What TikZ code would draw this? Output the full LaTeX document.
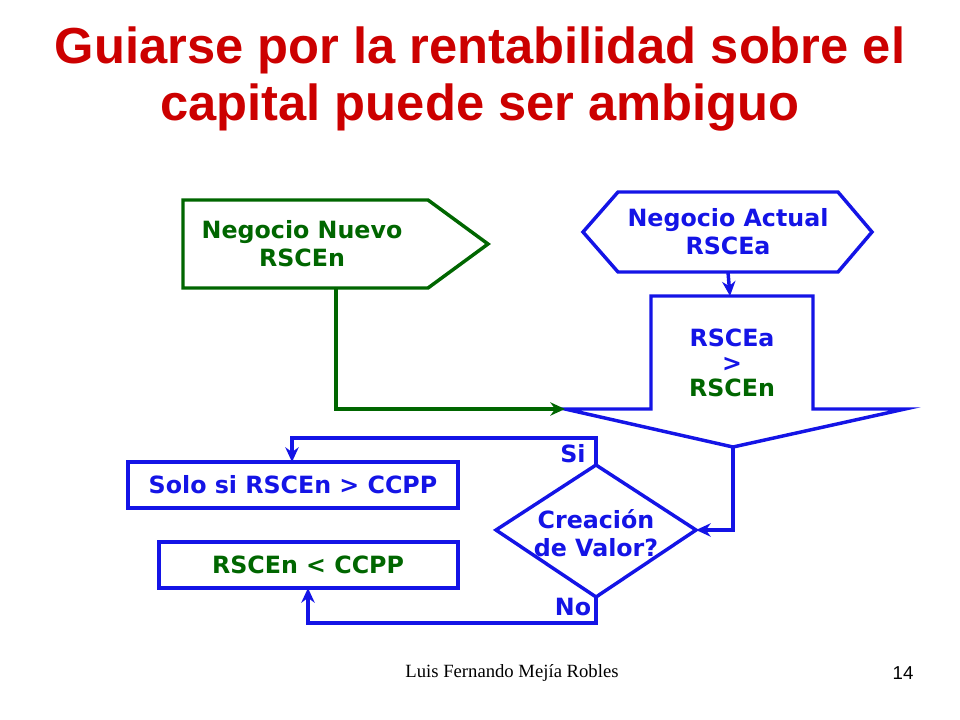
\documentclass[tikz,border=0pt]{standalone}
\usepackage{fontspec}
\setmainfont{DejaVu Sans}
\newfontfamily\titlefont{Liberation Sans}
\newfontfamily\footfont{Liberation Serif}
\usetikzlibrary{arrows.meta}
\definecolor{flowblue}{RGB}{20,20,230}
\definecolor{flowgreen}{RGB}{0,102,0}
\definecolor{titlered}{RGB}{204,0,0}
\tikzset{
  x=0.75pt, y=-0.75pt,
  >={Stealth[length=11pt,width=10pt]}, % arrow heads
  blueline/.style={draw=flowblue, line width=2.6pt, line join=miter},
  greenline/.style={draw=flowgreen, line width=2.6pt, line join=miter},
  txt/.style={font=\bfseries\fontsize{17.8}{21}\selectfont, align=center}, % flow texts
}
\begin{document}
\begin{tikzpicture}
  \useasboundingbox (0,0) rectangle (960,720);
  % title
  \node[font=\titlefont\bfseries\fontsize{38}{43}\selectfont, text=titlered, align=center] (title) at (480,79)
    {Guiarse por la rentabilidad sobre el\\capital puede ser ambiguo};

  % shapes
  \draw[greenline] (183,200) -- (428,200) -- (488,244) -- (428,288) -- (183,288) -- cycle;
  \node[txt, text=flowgreen] (nuevo) at (302,244) {Negocio Nuevo\\RSCEn};
  \draw[blueline] (583,232) -- (618,192) -- (838,192) -- (872,232) -- (838,272) -- (618,272) -- cycle;
  \node[txt, text=flowblue] (actual) at (728,232) {Negocio Actual\\RSCEa};
  \draw[blueline] (651,296) -- (813,296) -- (813,409) -- (905,409) -- (733,447) -- (565,409) -- (651,409) -- cycle;
  \node[txt, text=flowblue] (compara) at (732,363) {RSCEa\\[-2pt]>\\[-2pt]\textcolor{flowgreen}{RSCEn}};
  \draw[blueline] (596,465) -- (696,530) -- (596,597) -- (496,530) -- cycle;
  \node[txt, text=flowblue] (valor) at (596,533) {Creación\\de Valor?};
  \draw[blueline] (128,462) rectangle (458,508);
  \node[txt, text=flowblue] (solosi) at (293,485) {Solo si RSCEn > CCPP};
  \draw[blueline] (159,542) rectangle (458,588);
  \node[txt, text=flowgreen] (menor) at (308,565) {RSCEn < CCPP};

  % connection points
  \coordinate (actualS) at (728,272);
  \coordinate (comparaN) at (730,296);
  \coordinate (comparaW) at (565,409);
  \coordinate (comparaS) at (733,447);
  \coordinate (valorN) at (596,465);
  \coordinate (valorE) at (696,530);
  \coordinate (valorS) at (596,597);
  \coordinate (nuevoS) at (336,288);
  \coordinate (solosiN) at (292,462);
  \coordinate (menorS) at (308,588);

  % connectors
  \draw[blueline, ->] (actualS) -- (comparaN);
  \draw[greenline, ->] (nuevoS) |- (comparaW);
  \draw[blueline, ->] (comparaS) |- (valorE);
  \draw[blueline, ->] (valorN) -- (596,438) -| (solosiN);
  \draw[blueline, ->] (valorS) -- (596,623) -| (menorS);
  \node[txt, text=flowblue] (si) at (573,454) {Si};
  \node[txt, text=flowblue] (no) at (573,607) {No};

  % footer
  \node[font=\footfont\fontsize{14}{16}\selectfont] (autor) at (512,673) {Luis Fernando Mejía Robles};
  \node[font=\titlefont\fontsize{14}{16}\selectfont] (pagina) at (903,673) {14};
\end{tikzpicture}
\end{document}
